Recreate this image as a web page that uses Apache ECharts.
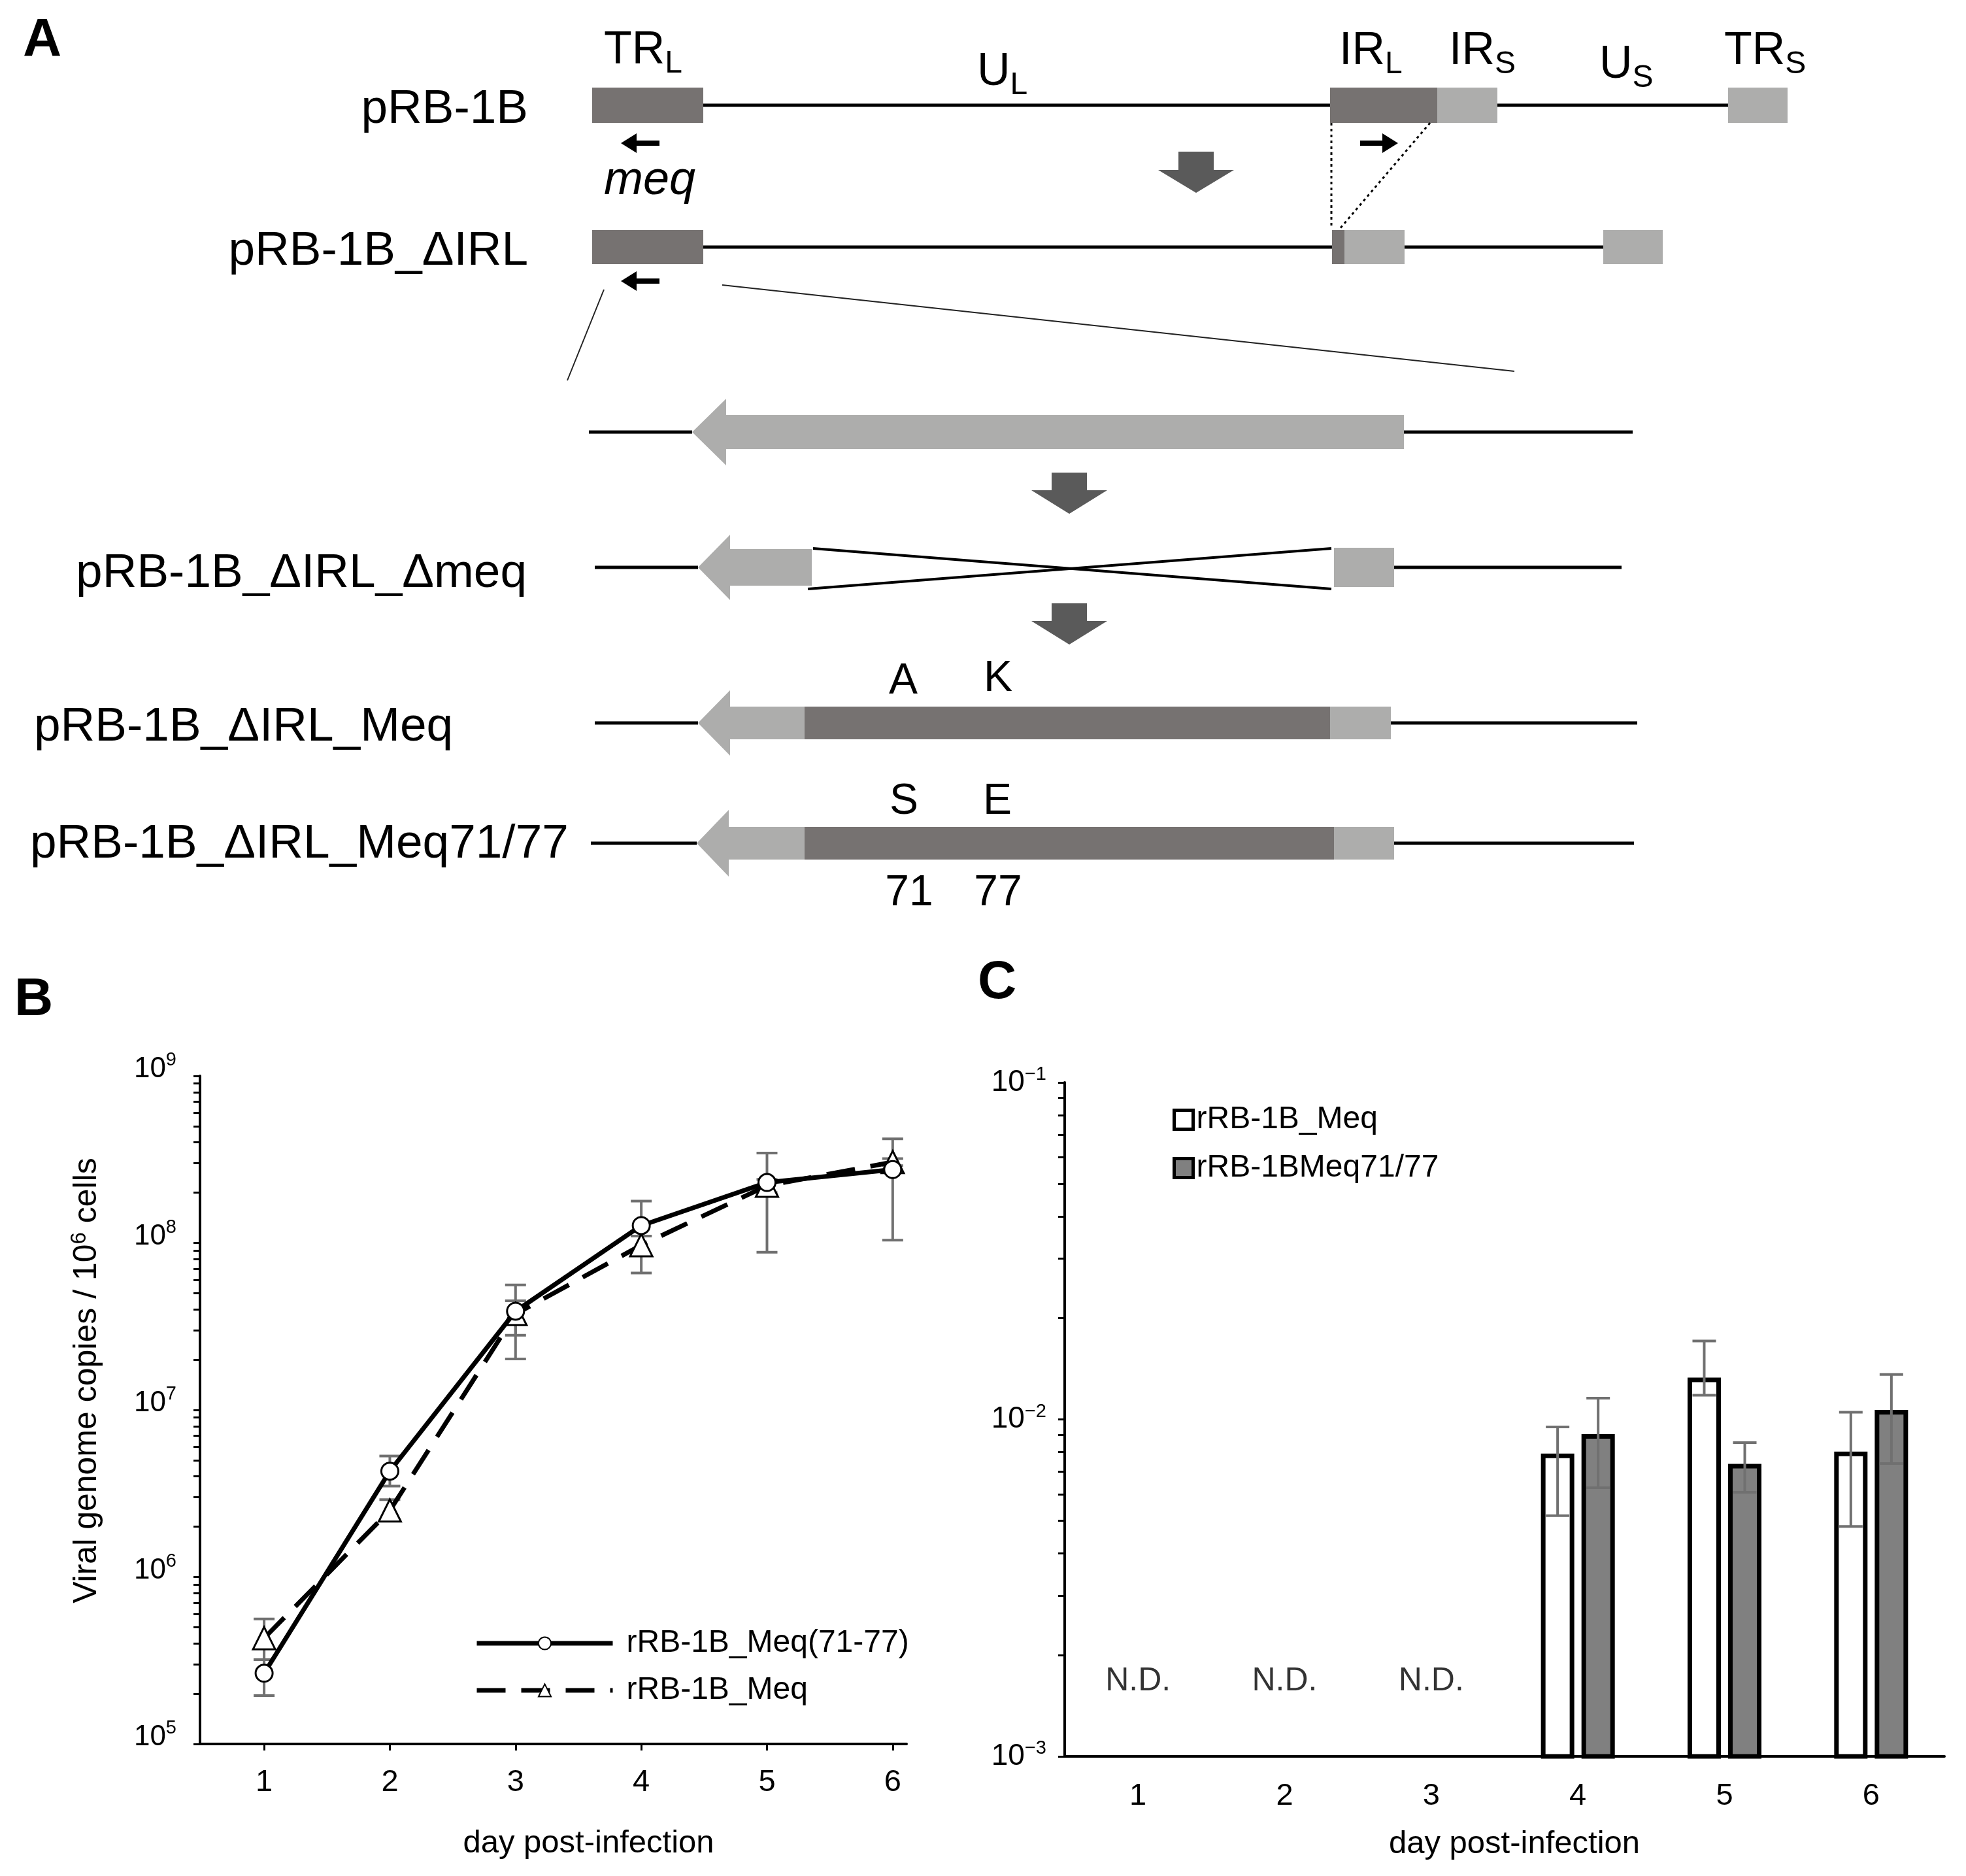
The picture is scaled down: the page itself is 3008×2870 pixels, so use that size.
<!DOCTYPE html>
<html>
<head>
<meta http-equiv="Content-Type" content="text/html; charset=utf-8">
<script type="text/javascript" src="https://cdn.jsdelivr.net/npm/echarts@6/dist/echarts.min.js"></script>
<style>
    html, body { margin: 0; padding: 0; background: #fff; }
    #main { width: 3008px; height: 2870px; }
</style>
</head>
<body>
<div id="main"></div>
<script type="text/javascript">
var FONT = '"Liberation Sans", Arial, Helvetica, sans-serif';

// ---- panel B : viral genome copies ----
var days = [1, 2, 3, 4, 5, 6];
var meq7177 = [2.65e5, 4.3e6, 3.9e7, 1.27e8, 2.3e8, 2.75e8];
var meq7177Low = [1.95e5, 3.5e6, 2.8e7, 1.1e8, 8.8e7, 1.04e8];
var meq7177High = [3.2e5, 5.3e6, 5.6e7, 1.78e8, 3.45e8, 4.2e8];
var meqB = [4.3e5, 2.5e6, 3.75e7, 9.7e7, 2.2e8, 3.05e8];
var meqBLow = [3.2e5, 2.2e6, 2.02e7, 6.6e7, 2.0e8, 2.9e8];
var meqBHigh = [5.6e5, 2.9e6, 4.5e7, 1.1e8, 2.4e8, 3.2e8];
var decadesB = [1e5, 1e6, 1e7, 1e8, 1e9];

// ---- panel C : ratio ----
var dayLabels = ['1', '2', '3', '4', '5', '6'];
var cMeq = [null, null, null, 7.8e-3, 1.31e-2, 7.9e-3];
var cMeqLow = [null, null, null, 5.18e-3, 1.18e-2, 4.81e-3];
var cMeqHigh = [null, null, null, 9.5e-3, 1.71e-2, 1.05e-2];
var cMeq7177 = [null, null, null, 8.9e-3, 7.27e-3, 1.05e-2];
var cMeq7177Low = [null, null, null, 6.27e-3, 6.08e-3, 7.4e-3];
var cMeq7177High = [null, null, null, 1.156e-2, 8.53e-3, 1.36e-2];
var ndDays = ['1', '2', '3'];
var ndLevel = 1.67e-3;
var decadesC = [1e-3, 1e-2, 1e-1];
var minorSteps = [2, 3, 4, 5, 6, 7, 8, 9];

// ---- panel A : genome schematic (page pixel units) ----
var rowY = [161, 378, 661, 868, 1106, 1290];
var backbone = [[1076, 2035, 0], [2291, 2644, 0], [1076, 2038, 1], [2149, 2453, 1],
    [901, 1059, 2], [2148, 2498, 2], [910, 1068, 3], [2133, 2481, 3],
    [910, 1068, 4], [2128, 2505, 4], [904, 1066, 5], [2133, 2500, 5]];
// x0, x1, row, half height, kind
var boxes = [[906, 1076, 0, 27, 'dark'], [2035, 2199, 0, 27, 'dark'], [2199, 2291, 0, 27, 'light'], [2644, 2735, 0, 27, 'light'],
    [906, 1076, 1, 26, 'dark'], [2038, 2057, 1, 26, 'dark'], [2057, 2149, 1, 26, 'light'], [2453, 2544, 1, 26, 'light'],
    [2041, 2133, 3, 30, 'light'],
    [1231, 2035, 4, 25, 'dark'], [2035, 2128, 4, 25, 'light'],
    [1231, 2041, 5, 25, 'dark'], [2041, 2133, 5, 25, 'light']];
// tip x, head back x, shaft end x, row, head half, shaft half
var geneArrows = [[1059, 1111, 2148, 2, 51, 26], [1068, 1117, 1242, 3, 50, 28],
    [1068, 1117, 1231, 4, 50, 25], [1066, 1115, 1231, 5, 51, 25]];
// centre x, top y, head start y, tip y
var downArrows = [[1830, 232, 260, 295], [1636, 723, 750, 786], [1636, 923, 950, 986]];
// tail x, tip x, y
var smallArrows = [[1009, 950, 219], [1009, 950, 430], [2081, 2139, 219]];
var guideLines = [[924, 443, 868, 582, 'thin'], [1105, 436, 2317, 568, 'thin'],
    [2037, 188, 2037, 349, 'dot'], [2188, 188, 2049, 351, 'dot'],
    [1244, 839, 2037, 901, 'cross'], [1236, 901, 2037, 839, 'cross']];
var diagramTexts = [
    [35, 62, 'A', 'left', 'panel'],
    [22, 1530, 'B', 'left', 'panel'],
    [1496, 1504, 'C', 'left', 'panel'],
    [808, 168, 'pRB-1B', 'right', 'row'],
    [808, 385, 'pRB-1B_ΔIRL', 'right', 'row'],
    [806, 878, 'pRB-1B_ΔIRL_Δmeq', 'right', 'row'],
    [52, 1113, 'pRB-1B_ΔIRL_Meq', 'left', 'row'],
    [46, 1292, 'pRB-1B_ΔIRL_Meq71/77', 'left', 'row'],
    [924, 78, '{m|TR}{s|L}', 'left', 'region'],
    [1495, 111, '{m|U}{s|L}', 'left', 'region'],
    [2049, 79, '{m|IR}{s|L}', 'left', 'region'],
    [2217, 79, '{m|IR}{s|S}', 'left', 'region'],
    [2447, 100, '{m|U}{s|S}', 'left', 'region'],
    [2638, 79, '{m|TR}{s|S}', 'left', 'region'],
    [994, 277, 'meq', 'center', 'italic'],
    [1382, 1043, 'A', 'center', 'residue'],
    [1527, 1039, 'K', 'center', 'residue'],
    [1383, 1227, 'S', 'center', 'residue'],
    [1526, 1227, 'E', 'center', 'residue'],
    [1391, 1367, '71', 'center', 'residue'],
    [1527, 1367, '77', 'center', 'residue']
];

var DARK = '#767271', LIGHT = '#adadac', ARROW = '#5a5a5a', ERR = '#707070';

function logTicks(decades) {
    var out = [];
    decades.forEach(function (d, i) {
        out.push(d);
        if (i < decades.length - 1) {
            minorSteps.forEach(function (m) { out.push(d * m); });
        }
    });
    return out;
}
function supLabel(v) {
    var e = Math.round(Math.log(v) / Math.LN10);
    return '{b|10}{s|' + (e < 0 ? '\u2212' + (-e) : e) + '}';
}

var textStyles = {
    panel: { fontSize: 82, fontWeight: 'bold' },
    row: { fontSize: 73 },
    region: { fontSize: 70, rich: {
        m: { fontSize: 70, fontFamily: FONT, fill: '#000' },
        s: { fontSize: 48, fontFamily: FONT, fill: '#000', padding: [40, 0, 0, 0] }
    } },
    italic: { fontSize: 72, fontStyle: 'italic' },
    residue: { fontSize: 66 }
};

// error bar drawer for panel B / C
function errorBar(offset, capHalf) {
    return function (params, api) {
        if (isNaN(api.value(1))) return;
        var hi = api.coord([api.value(0), api.value(2)]);
        var lo = api.coord([api.value(0), api.value(1)]);
        var x = hi[0] + offset;
        var st = { stroke: ERR, lineWidth: 4 };
        return { type: 'group', children: [
            { type: 'line', shape: { x1: x, y1: hi[1], x2: x, y2: lo[1] }, style: st },
            { type: 'line', shape: { x1: x - capHalf, y1: hi[1], x2: x + capHalf, y2: hi[1] }, style: st },
            { type: 'line', shape: { x1: x - capHalf, y1: lo[1], x2: x + capHalf, y2: lo[1] }, style: st }
        ] };
    };
}

var barWidthC = 44, barGapC = 0.41;
var barShift = barWidthC * (1 + barGapC) / 2;

// bars on the log axis, from the axis floor up to the value
function logBar(offset, fill) {
    return function (params, api) {
        var v = api.value(1);
        if (isNaN(v)) return;
        var top = api.coord([api.value(0), v]);
        var base = api.coord([api.value(0), decadesC[0]]);
        return { type: 'rect',
            shape: { x: top[0] + offset - barWidthC / 2, y: top[1], width: barWidthC, height: base[1] - top[1] },
            style: { fill: fill, stroke: '#000', lineWidth: 7 } };
    };
}

var pageAxes = { xAxisIndex: 0, yAxisIndex: 0, silent: true, clip: false, z: 5 };
function pageSeries(data, fn) {
    return Object.assign({ type: 'custom', data: data, renderItem: fn }, pageAxes);
}

var series = [
    // panel A
    pageSeries(backbone.map(function (d) { return [d[0], rowY[d[2]]]; }), function (params, api) {
        var d = backbone[params.dataIndex];
        var p0 = api.coord([d[0], rowY[d[2]]]), p1 = api.coord([d[1], rowY[d[2]]]);
        return { type: 'line', shape: { x1: p0[0], y1: p0[1], x2: p1[0], y2: p1[1] }, style: { stroke: '#000', lineWidth: 5 } };
    }),
    pageSeries(boxes.map(function (d) { return [d[0], rowY[d[2]]]; }), function (params, api) {
        var d = boxes[params.dataIndex];
        var p0 = api.coord([d[0], rowY[d[2]] - d[3]]), p1 = api.coord([d[1], rowY[d[2]] + d[3]]);
        return { type: 'rect', shape: { x: p0[0], y: p0[1], width: p1[0] - p0[0], height: p1[1] - p0[1] },
            style: { fill: d[4] === 'dark' ? DARK : LIGHT } };
    }),
    pageSeries(geneArrows.map(function (d) { return [d[0], rowY[d[3]]]; }), function (params, api) {
        var d = geneArrows[params.dataIndex], y = rowY[d[3]];
        var pts = [[d[0], y], [d[1], y - d[4]], [d[1], y - d[5]], [d[2], y - d[5]],
            [d[2], y + d[5]], [d[1], y + d[5]], [d[1], y + d[4]]].map(function (q) { return api.coord(q); });
        return { type: 'polygon', shape: { points: pts }, style: { fill: LIGHT } };
    }),
    pageSeries(downArrows.map(function (d) { return [d[0], d[1]]; }), function (params, api) {
        var d = downArrows[params.dataIndex];
        var sw = 27, hw = 58;
        var pts = [[d[0] - sw, d[1]], [d[0] + sw, d[1]], [d[0] + sw, d[2]], [d[0] + hw, d[2]],
            [d[0], d[3]], [d[0] - hw, d[2]], [d[0] - sw, d[2]]].map(function (q) { return api.coord(q); });
        return { type: 'polygon', shape: { points: pts }, style: { fill: ARROW } };
    }),
    pageSeries(smallArrows.map(function (d) { return [d[0], d[2]]; }), function (params, api) {
        var d = smallArrows[params.dataIndex];
        var dir = d[1] > d[0] ? 1 : -1, hb = d[1] - dir * 24, y = d[2];
        var pts = [[d[0], y - 4], [hb, y - 4], [hb, y - 15], [d[1], y], [hb, y + 15], [hb, y + 4], [d[0], y + 4]]
            .map(function (q) { return api.coord(q); });
        return { type: 'polygon', shape: { points: pts }, style: { fill: '#000' } };
    }),
    pageSeries(guideLines.map(function (d) { return [d[0], d[1]]; }), function (params, api) {
        var d = guideLines[params.dataIndex];
        var p0 = api.coord([d[0], d[1]]), p1 = api.coord([d[2], d[3]]);
        var st = d[4] === 'thin' ? { stroke: '#222', lineWidth: 2 }
            : d[4] === 'dot' ? { stroke: '#000', lineWidth: 3, lineDash: [4, 5] }
            : { stroke: '#000', lineWidth: 4 };
        return { type: 'line', shape: { x1: p0[0], y1: p0[1], x2: p1[0], y2: p1[1] }, style: st };
    }),
    pageSeries(diagramTexts.map(function (d) { return [d[0], d[1]]; }), function (params, api) {
        var d = diagramTexts[params.dataIndex];
        var p = api.coord([d[0], d[1]]);
        return { type: 'text', x: p[0], y: p[1], style: Object.assign({
            text: d[2], fill: '#000', fontFamily: FONT, align: d[3], verticalAlign: 'middle'
        }, textStyles[d[4]]) };
    }),

    // panel B
    {
        type: 'custom', xAxisIndex: 1, yAxisIndex: 1, z: 1, silent: true,
        data: days.map(function (d, i) { return [d, meq7177Low[i], meq7177High[i]]; }),
        encode: { x: 0, y: [1, 2] }, renderItem: errorBar(0, 16)
    },
    {
        type: 'custom', xAxisIndex: 1, yAxisIndex: 1, z: 1, silent: true,
        data: days.map(function (d, i) { return [d, meqBLow[i], meqBHigh[i]]; }),
        encode: { x: 0, y: [1, 2] }, renderItem: errorBar(0, 16)
    },
    {
        name: 'rRB-1B_Meq', type: 'line', xAxisIndex: 1, yAxisIndex: 1, z: 3,
        data: days.map(function (d, i) { return [d, meqB[i]]; }),
        symbol: 'triangle', symbolSize: 34,
        itemStyle: { color: '#fff', borderColor: '#000', borderWidth: 3 },
        lineStyle: { color: '#000', width: 7, type: [44, 24] }
    },
    {
        name: 'rRB-1B_Meq(71-77)', type: 'line', xAxisIndex: 1, yAxisIndex: 1, z: 4,
        data: days.map(function (d, i) { return [d, meq7177[i]]; }),
        symbol: 'circle', symbolSize: 26,
        itemStyle: { color: '#fff', borderColor: '#000', borderWidth: 3 },
        lineStyle: { color: '#000', width: 7, type: 'solid' }
    },

    // panel C
    {
        name: 'C:rRB-1B_Meq', type: 'custom', xAxisIndex: 2, yAxisIndex: 2, z: 2, silent: true,
        data: dayLabels.map(function (d, i) { return [i, cMeq[i]]; }),
        encode: { x: 0, y: 1 },
        itemStyle: { color: '#fff', borderColor: '#000', borderWidth: 7 },
        renderItem: logBar(-barShift, '#fff')
    },
    {
        name: 'C:rRB-1BMeq71/77', type: 'custom', xAxisIndex: 2, yAxisIndex: 2, z: 2, silent: true,
        data: dayLabels.map(function (d, i) { return [i, cMeq7177[i]]; }),
        encode: { x: 0, y: 1 },
        itemStyle: { color: '#808080', borderColor: '#000', borderWidth: 7 },
        renderItem: logBar(barShift, '#808080')
    },
    {
        type: 'custom', xAxisIndex: 2, yAxisIndex: 2, z: 5, silent: true,
        data: dayLabels.map(function (d, i) { return [i, cMeqLow[i], cMeqHigh[i]]; }),
        encode: { x: 0, y: [1, 2] }, renderItem: errorBar(-barShift, 18)
    },
    {
        type: 'custom', xAxisIndex: 2, yAxisIndex: 2, z: 5, silent: true,
        data: dayLabels.map(function (d, i) { return [i, cMeq7177Low[i], cMeq7177High[i]]; }),
        encode: { x: 0, y: [1, 2] }, renderItem: errorBar(barShift, 18)
    },
    {
        type: 'scatter', xAxisIndex: 2, yAxisIndex: 2, silent: true,
        data: ndDays.map(function (d) { return [d, ndLevel]; }),
        symbolSize: 1, itemStyle: { color: 'rgba(0,0,0,0)' },
        label: { show: true, position: 'inside', formatter: 'N.D.', fontSize: 50, color: '#000', fontFamily: FONT }
    }
];

var axisBlack = { lineStyle: { color: '#000', width: 4 }, onZero: false };
var tickBlack = { color: '#000', width: 3 };

var option = {
    animation: false,
    backgroundColor: '#fff',
    textStyle: { fontFamily: FONT, color: '#000' },
    grid: [
        { left: 0, top: 0, width: 3008, height: 2870 },
        { left: 306, top: 1646, width: 1081, height: 1022 },
        { left: 1629, top: 1656, width: 1346, height: 1031 }
    ],
    xAxis: [
        { gridIndex: 0, type: 'value', min: 0, max: 3008, show: false },
        {
            gridIndex: 1, type: 'value', min: 0.49, max: 6.11,
            axisLine: axisBlack, splitLine: { show: false },
            axisTick: { customValues: days, length: 10, lineStyle: tickBlack },
            axisLabel: { customValues: days, fontSize: 47, color: '#000', margin: 36 },
            name: 'day post-infection', nameLocation: 'middle', nameGap: 128,
            nameTextStyle: { fontSize: 49, color: '#000', padding: [0, 0, 0, 108] }
        },
        {
            gridIndex: 2, type: 'category', data: dayLabels, boundaryGap: true,
            axisLine: axisBlack, splitLine: { show: false },
            axisTick: { alignWithLabel: true, length: 10, lineStyle: tickBlack },
            axisLabel: { fontSize: 47, color: '#000', margin: 38 },
            name: 'day post-infection', nameLocation: 'middle', nameGap: 110,
            nameTextStyle: { fontSize: 49, color: '#000', padding: [0, 0, 0, 30] }
        }
    ],
    yAxis: [
        { gridIndex: 0, type: 'value', min: 0, max: 2870, inverse: true, show: false },
        {
            gridIndex: 1, type: 'log', logBase: 10, min: 1e5, max: 1e9,
            axisLine: { show: true, lineStyle: { color: '#000', width: 4 }, onZero: false },
            splitLine: { show: false },
            axisTick: { show: true, customValues: logTicks(decadesB), length: 10, lineStyle: tickBlack },
            axisLabel: {
                customValues: decadesB, margin: 36, formatter: supLabel,
                rich: {
                    b: { fontSize: 44, color: '#000', fontFamily: FONT, padding: [0, 0, 20, 0] },
                    s: { fontSize: 29, color: '#000', fontFamily: FONT, padding: [0, 0, 48, 0] }
                }
            },
            name: 'Viral genome copies / 10{s|6} cells', nameLocation: 'middle', nameRotate: 90, nameGap: 144,
            nameTextStyle: { fontSize: 50, color: '#000', padding: [0, 0, 0, 90],
                rich: { s: { fontSize: 33, color: '#000', fontFamily: FONT, padding: [0, 0, 24, 0] } } }
        },
        {
            gridIndex: 2, type: 'log', logBase: 10, min: 1e-3, max: 1e-1,
            axisLine: { show: true, lineStyle: { color: '#000', width: 4 }, onZero: false },
            splitLine: { show: false },
            axisTick: { show: true, customValues: logTicks(decadesC), length: 10, lineStyle: tickBlack },
            axisLabel: {
                customValues: decadesC, margin: 28, formatter: supLabel,
                rich: {
                    b: { fontSize: 46, color: '#000', fontFamily: FONT },
                    s: { fontSize: 29, color: '#000', fontFamily: FONT, padding: [0, 0, 24, 0] }
                }
            }
        }
    ],
    legend: [
        {
            data: ['rRB-1B_Meq(71-77)', 'rRB-1B_Meq'], orient: 'vertical',
            left: 721, top: 2485, itemWidth: 208, itemHeight: 24, itemGap: 24,
            selectedMode: false,
            lineStyle: { width: 7 },
            textStyle: { fontSize: 48, color: '#000', fontFamily: FONT, padding: [0, 0, 0, 16] }
        },
        {
            data: ['C:rRB-1B_Meq', 'C:rRB-1BMeq71/77'], orient: 'vertical',
            left: 1789, top: 1684, itemWidth: 29, itemHeight: 29, itemGap: 26,
            icon: 'rect', selectedMode: false,
            itemStyle: { borderWidth: 5 },
            formatter: function (name) { return name.replace(/^C:/, ''); },
            textStyle: { fontSize: 48, color: '#000', fontFamily: FONT }
        }
    ],
    series: series
};

var chart = echarts.init(document.getElementById('main'));
chart.setOption(option);
</script>
</body>
</html>
